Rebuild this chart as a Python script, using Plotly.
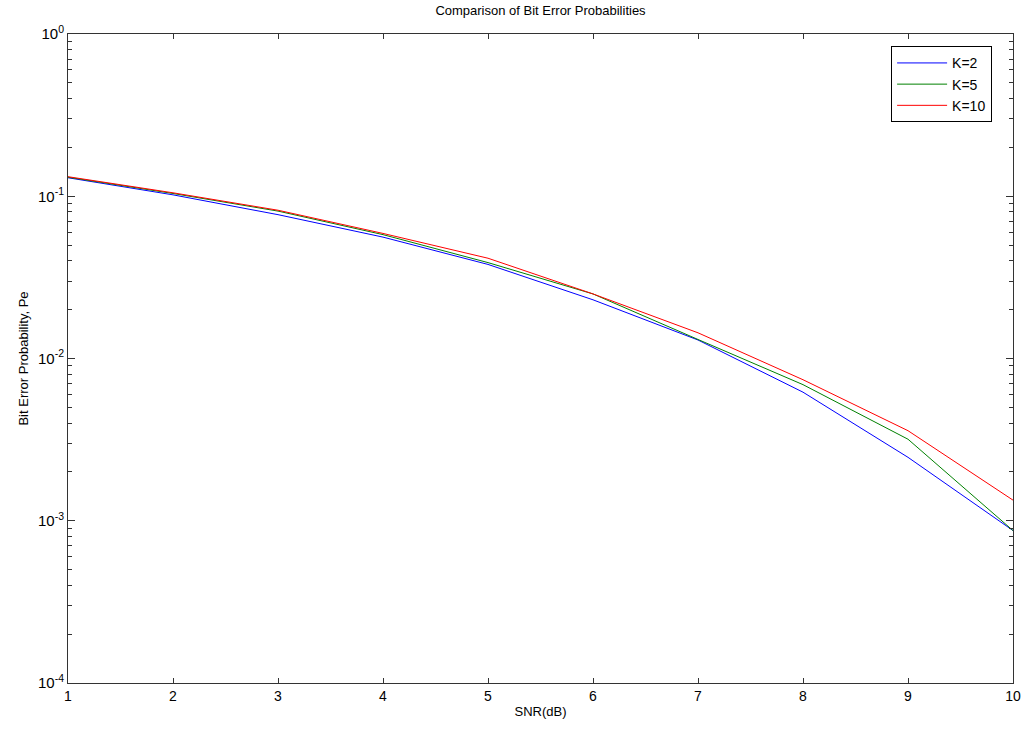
import plotly.graph_objects as go

snr = [1, 2, 3, 4, 5, 6, 7, 8, 9, 10]
pe_k2 = [0.130, 0.102, 0.077, 0.056, 0.038, 0.023, 0.0130, 0.0062, 0.00246, 0.00087]
pe_k5 = [0.131, 0.104, 0.081, 0.058, 0.039, 0.025, 0.0131, 0.0069, 0.00318, 0.00087]
pe_k10 = [0.132, 0.105, 0.082, 0.059, 0.0415, 0.025, 0.0144, 0.0074, 0.00359, 0.00134]
series_names = ["K=2", "K=5", "K=10"]
series_colors = ["#0000FF", "#008000", "#FF0000"]
y_tickvals = [1e-4, 1e-3, 1e-2, 1e-1, 1e0]
y_ticktext = ["10<sup>-4</sup>", "10<sup>-3</sup>", "10<sup>-2</sup>", "10<sup>-1</sup>", "10<sup>0</sup>"]
x_ticks = [1, 2, 3, 4, 5, 6, 7, 8, 9, 10]

fig = go.Figure()
for name, vals, col in zip(series_names, [pe_k2, pe_k5, pe_k10], series_colors):
    fig.add_trace(go.Scatter(x=snr, y=vals, mode="lines", name=name,
                             line=dict(color=col, width=1)))

fam = "Liberation Sans, Arial, sans-serif"
font = dict(family=fam, size=13, color="#000000")
fig.update_layout(
    width=1027, height=729,
    margin=dict(l=68, r=14, t=34, b=46, autoexpand=False),
    paper_bgcolor="white", plot_bgcolor="white",
    font=font,
    title=dict(text="Comparison of Bit Error Probabilities", x=0.5, xref="paper",
               y=1, yref="container", yanchor="top", pad=dict(t=6),
               font=dict(family=fam, size=13)),
    showlegend=True,
    legend=dict(x=0.871, y=0.981, xanchor="left", yanchor="top",
                bordercolor="#000000", borderwidth=1, bgcolor="white",
                font=dict(family=fam, size=14), tracegroupgap=0, itemwidth=50),
)
fig.update_xaxes(
    range=[1, 10], tickvals=x_ticks, ticks="inside", ticklen=5, tickcolor="#333",
    showline=True, linecolor="#333", linewidth=1, mirror="ticks",
    showgrid=False, zeroline=False, automargin=False,
    title=dict(text="SNR(dB)", standoff=4, font=dict(family=fam, size=13)),
    tickfont=dict(family=fam, size=14),
)
fig.update_yaxes(
    type="log", range=[-4, 0], tickvals=y_tickvals, ticktext=y_ticktext,
    ticks="inside", ticklen=7, tickcolor="#333",
    showline=True, linecolor="#333", linewidth=1, mirror="ticks",
    showgrid=False, zeroline=False, automargin=False,
    minor=dict(ticks="inside", ticklen=4, dtick="D1", tickcolor="#333", showgrid=False),
    title=dict(text="Bit Error Probability, Pe", standoff=6, font=dict(family=fam, size=13)),
    tickfont=dict(family=fam, size=15),
)
fig.write_html("out.html")
